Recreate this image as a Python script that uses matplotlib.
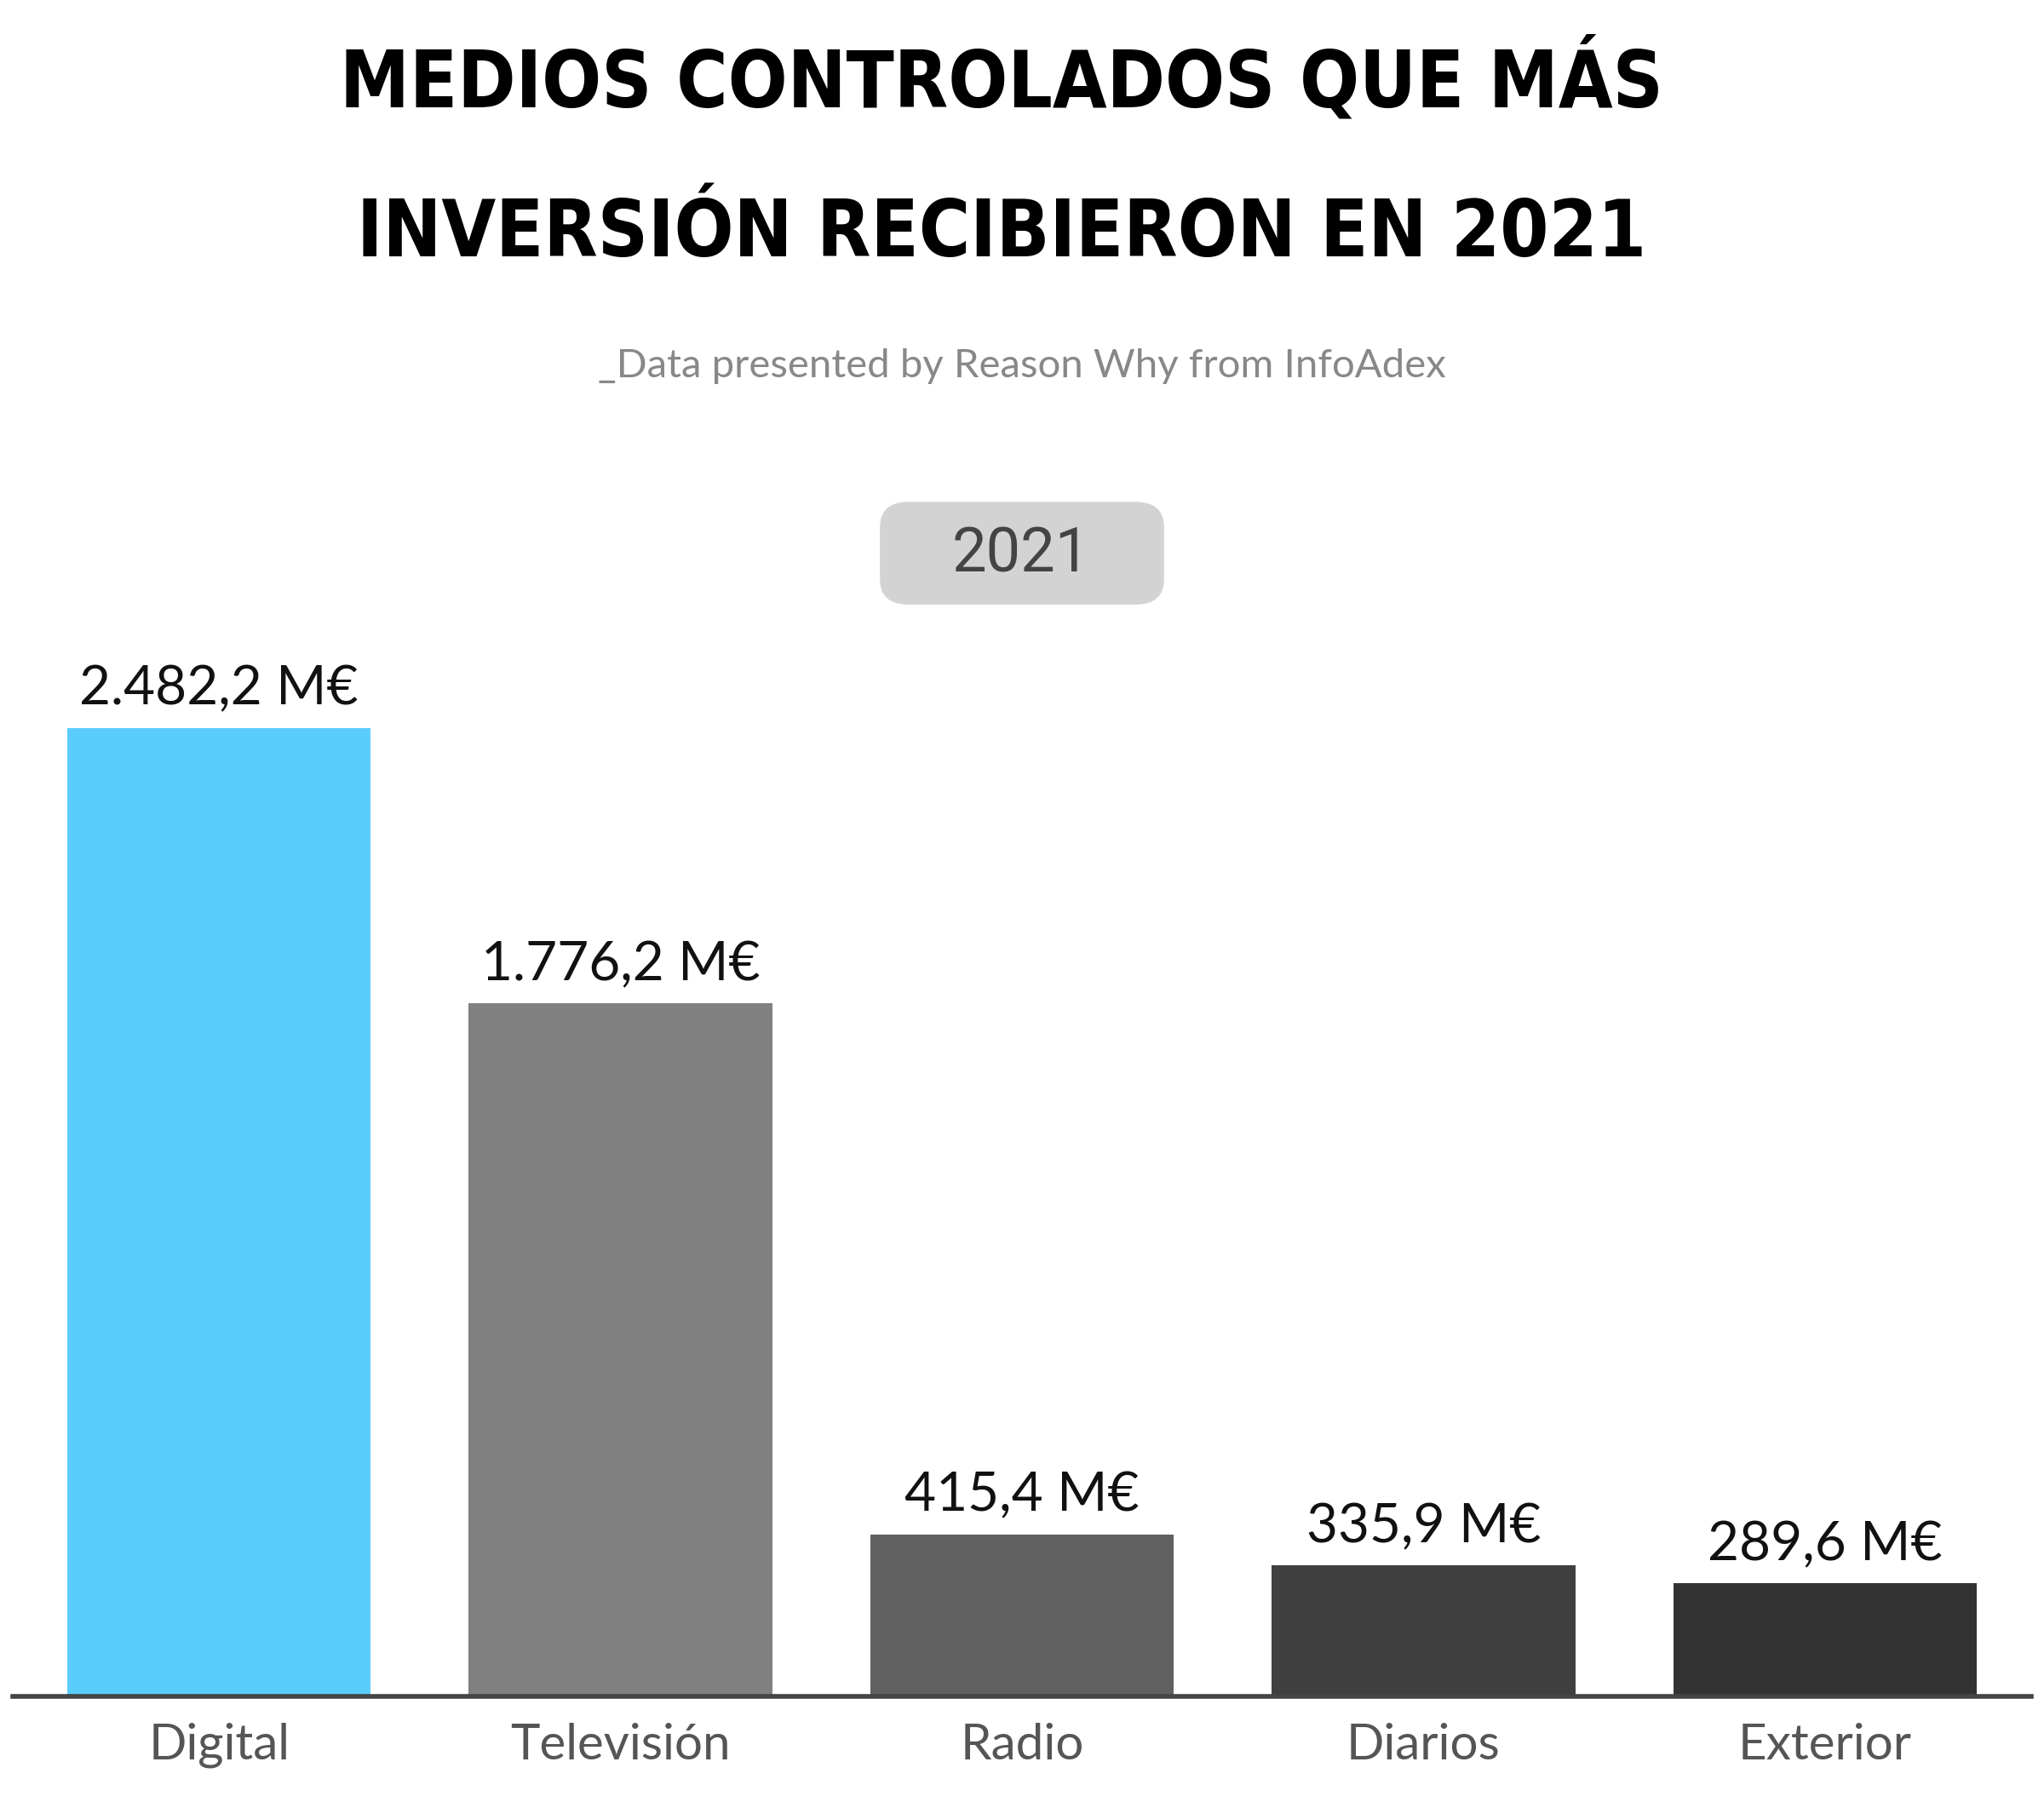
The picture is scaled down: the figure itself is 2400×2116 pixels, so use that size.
import matplotlib.pyplot as plt
from matplotlib.patches import FancyBboxPatch

categories = ["Digital", "Televisión", "Radio", "Diarios", "Exterior"]
values = [2482.2, 1776.2, 415.4, 335.9, 289.6]
labels = ["2.482,2 M€", "1.776,2 M€", "415,4 M€", "335,9 M€", "289,6 M€"]
colors = ["#5BCDFD", "#808080", "#606060", "#404040", "#333333"]

fig = plt.figure(figsize=(24, 21.16), dpi=100)
ax = fig.add_axes([0.0064, 0.0586, 0.9872, 0.5944])

x = range(len(categories))
ax.bar(x, values, width=0.756, color=colors)
for i, (v, lab) in enumerate(zip(values, labels)):
    ax.text(i, v + 35, lab, ha="center", va="bottom", fontsize=46,
            family=["Lato", "DejaVu Sans"], color="#111111")

ax.set_xlim(-0.513, 4.513)
ax.set_ylim(0, 2745)
ax.set_yticks([])
ax.set_xticks(list(x))
ax.set_xticklabels(categories, fontsize=42, family=["Lato", "DejaVu Sans"], color="#555555")
ax.tick_params(axis="x", length=0, pad=22)
for s in ["top", "right", "left"]:
    ax.spines[s].set_visible(False)
ax.spines["bottom"].set_color("#444444")
ax.spines["bottom"].set_linewidth(4)

fig.text(0.49, 0.955, "MEDIOS CONTROLADOS QUE MÁS", ha="center", va="center",
         fontsize=66, fontweight="bold", fontstretch="condensed", family="DejaVu Sans")
fig.text(0.49, 0.870, "INVERSIÓN RECIBIERON EN 2021", ha="center", va="center",
         fontsize=66, fontweight="bold", fontstretch="condensed", family="DejaVu Sans")
fig.text(0.5, 0.797, "_Data presented by Reason Why from InfoAdex", ha="center", va="center",
         fontsize=34, family=["Lato", "DejaVu Sans"], color="#888888")

badge = FancyBboxPatch((0.4305, 0.6645), 0.139, 0.057, boxstyle="round,pad=0,rounding_size=0.014",
                       transform=fig.transFigure, facecolor="#d3d3d3", edgecolor="none")
fig.patches.append(badge)
fig.text(0.4995, 0.692, "2021", ha="center", va="center", fontsize=52,
         family=["Roboto", "DejaVu Sans"], color="#444444")

fig.savefig("out.png", dpi=100, facecolor="white")
